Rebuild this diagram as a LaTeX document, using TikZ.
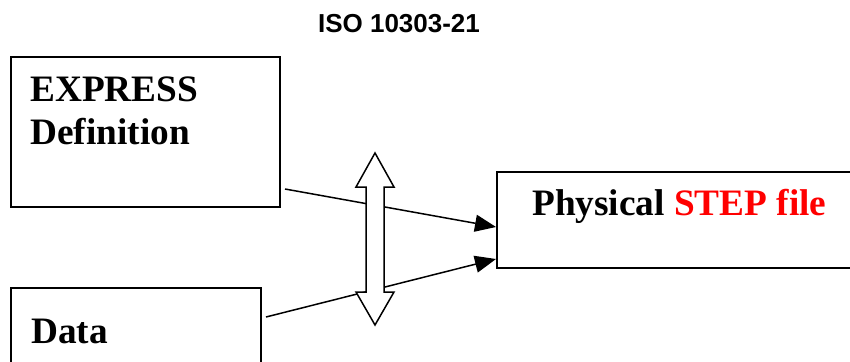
\documentclass[tikz,border=0pt]{standalone}
\usepackage{fontspec}
\setmainfont{Liberation Serif}
\newfontfamily\titlefont{Liberation Sans}
\usetikzlibrary{arrows.meta}
\begin{document}
\begin{tikzpicture}[x=1pt,y=-1pt,
  boxshape/.style={draw=black, line width=1.6pt, fill=white, inner sep=0pt, anchor=north west},
  boxtext/.style={anchor=base west, inner sep=0pt, font=\fontsize{37.3}{43}\selectfont\bfseries, align=left},
  feed/.style={line width=1.5pt, -{Triangle[length=21pt,width=17pt]}},
  exchange/.style={draw=black, line width=1.5pt, fill=white, line join=miter}]
  \clip (0,0) rectangle (850,361);
  \fill[white] (0,0) rectangle (850,361);

  % heading
  \node[anchor=base, inner sep=0pt, font=\titlefont\fontsize{26}{30}\selectfont\bfseries] (title) at (399,33) {ISO 10303-21};

  % the three boxes
  \node[boxshape, minimum width=269pt, minimum height=150pt] (expr) at (10,56) {};
  \node[boxshape, minimum width=250pt, minimum height=110pt] (data) at (10,287) {};
  \node[boxshape, minimum width=380pt, minimum height=96pt] (phys) at (496,171) {};

  % the base of a two-line node is the baseline of its last line
  \node[boxtext] (exprtext) at (30,144) {EXPRESS\\Definition};
  \node[boxtext] (datatext) at (31,343) {Data};
  \node[boxtext] (phystext) at (532,215) {Physical \textcolor{red}{STEP file}};

  % connectors into the STEP file
  \coordinate (from1) at (285,189);
  \coordinate (from2) at (266,317);
  \coordinate (to1) at (phys.west |- 0,227);
  \coordinate (to2) at (phys.west |- 0,259);
  \draw[feed] (from1) -- (to1);
  \draw[feed] (from2) -- (to2);

  % two-way exchange arrow drawn over the connectors
  \draw[exchange] (375,153) -- (394,187) -- (384,187) -- (384,292) -- (394,292)
    -- (375,325) -- (356,292) -- (366,292) -- (366,187) -- (356,187) -- cycle;
\end{tikzpicture}
\end{document}
